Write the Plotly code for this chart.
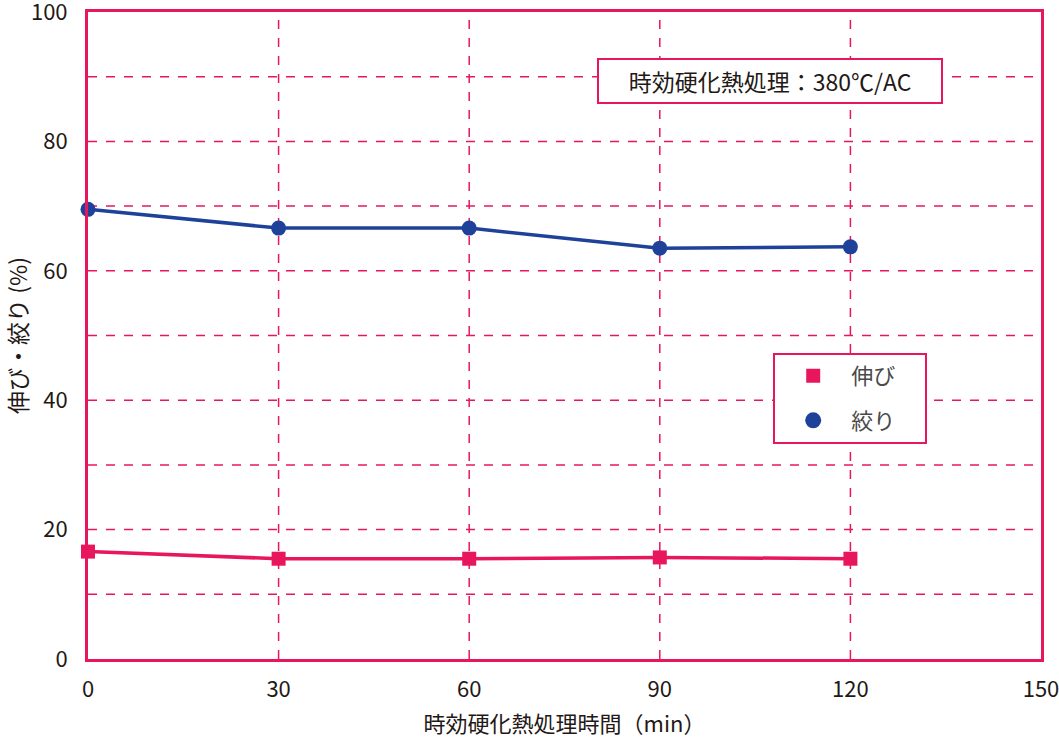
import plotly.graph_objects as go

time_min = [0, 30, 60, 90, 120]
elongation = [16.6, 15.5, 15.5, 15.7, 15.5]
reduction = [69.5, 66.6, 66.6, 63.5, 63.7]
x_ticks = [0, 30, 60, 90, 120, 150]
y_ticks = [0, 20, 40, 60, 80, 100]

PINK = "#E8175D"
BLUE = "#1E429A"
FONT = "Noto Sans CJK JP"
TXT = "#231815"

fig = go.Figure()
fig.add_trace(go.Scatter(x=time_min, y=elongation, mode="lines+markers",
                         line=dict(color=PINK, width=3.5),
                         marker=dict(symbol="square", size=14, color=PINK),
                         showlegend=False, cliponaxis=False))
fig.add_trace(go.Scatter(x=time_min, y=reduction, mode="lines+markers",
                         line=dict(color=BLUE, width=3.5),
                         marker=dict(symbol="circle", size=15, color=BLUE),
                         showlegend=False, cliponaxis=False))
# legend entries (markers only)
fig.add_trace(go.Scatter(x=[None], y=[None], mode="markers", name="伸び\u00a0\u00a0\u00a0\u00a0\u00a0",
                         marker=dict(symbol="square", size=14, color=PINK),
                         legendgroup="a"))
fig.add_trace(go.Scatter(x=[None], y=[None], mode="markers", name="絞り\u00a0\u00a0\u00a0\u00a0\u00a0",
                         marker=dict(symbol="circle", size=16, color=BLUE),
                         legendgroup="b"))

# grid lines (dashed)
for yv in range(10, 100, 10):
    fig.add_shape(type="line", xref="x", yref="y", x0=0, x1=150, y0=yv, y1=yv,
                  line=dict(color=PINK, width=1.5, dash="dash"), layer="below")
for xv in x_ticks[1:-1]:
    fig.add_shape(type="line", xref="x", yref="y", x0=xv, x1=xv, y0=0, y1=100,
                  line=dict(color=PINK, width=1.5, dash="dash"), layer="below")

fig.add_annotation(x=0.7157, y=0.894, xref="paper", yref="paper",
                   text="時効硬化熱処理：380℃/AC", showarrow=False,
                   font=dict(family=FONT, size=23, color=TXT),
                   width=340, height=40, align="center",
                   bordercolor=PINK, borderwidth=2, borderpad=1,
                   bgcolor="white", xanchor="center", yanchor="middle")

fig.update_layout(
    width=1059, height=740,
    margin=dict(l=88, r=18, t=12, b=81),
    plot_bgcolor="white", paper_bgcolor="white",
    font=dict(family=FONT, size=22, color=TXT),
    xaxis=dict(range=[0, 150], tickvals=x_ticks, showgrid=False, zeroline=False,
               showline=True, linecolor=PINK, linewidth=3, mirror=True,
               ticks="outside", ticklen=9, tickcolor="rgba(0,0,0,0)",
               tickfont=dict(family=FONT, size=22, color=TXT),
               ticklabeloverflow="allow", automargin=False,
               title=dict(text="時効硬化熱処理時間（min）", font=dict(size=22), standoff=15)),
    yaxis=dict(range=[0, 100], tickvals=y_ticks, showgrid=False, zeroline=False,
               showline=True, linecolor=PINK, linewidth=3, mirror=True,
               ticks="outside", ticklen=13, tickcolor="rgba(0,0,0,0)",
               tickfont=dict(family=FONT, size=22, color=TXT),
               ticklabeloverflow="allow", automargin=False,
               title=dict(text="伸び・絞り (%)", font=dict(size=23), standoff=42)),
    legend=dict(x=0.719, y=0.473, xanchor="left", yanchor="top",
                bordercolor=PINK, borderwidth=2, bgcolor="white",
                font=dict(size=22, color="#4a4a4a"), tracegroupgap=13,
                itemwidth=66),
)

fig.write_html("out.html", config={"displayModeBar": False},
               post_script="document.body.style.margin='0';document.body.style.overflow='hidden';")
